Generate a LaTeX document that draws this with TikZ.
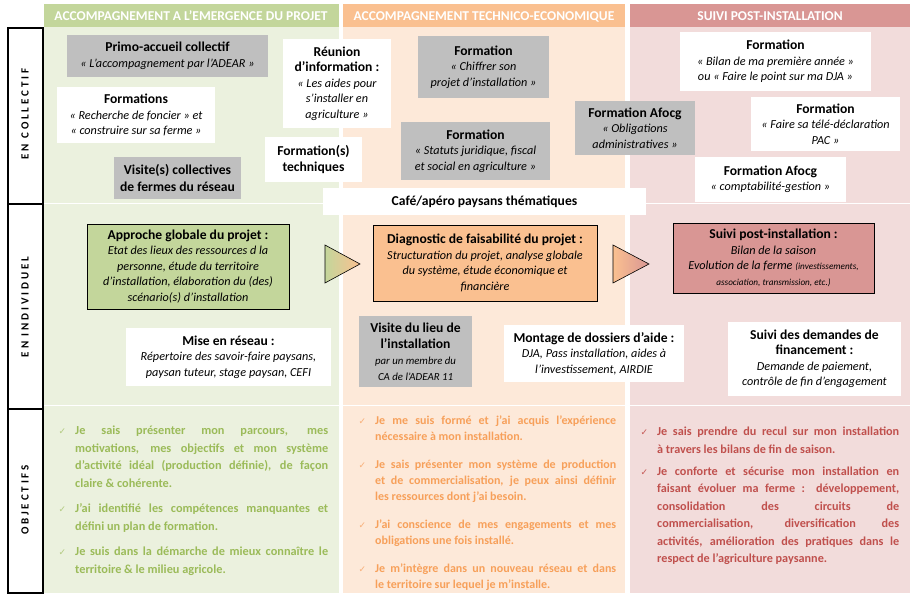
\documentclass[tikz,border=0pt]{standalone}
\usepackage{fontspec}
\setmainfont{Carlito}
\newfontfamily\symfont{DejaVu Sans}
\definecolor{hdgreen}{HTML}{C3D69B}
\definecolor{hdorange}{HTML}{FAC090}
\definecolor{hdpink}{HTML}{D99694}
\definecolor{bggreen}{HTML}{EBF1DE}
\definecolor{bgorange}{HTML}{FDE9D9}
\definecolor{bgpink}{HTML}{F2DCDB}
\definecolor{boxgray}{HTML}{BFBFBF}
\definecolor{objgreen}{HTML}{9BBB59}
\definecolor{objorange}{HTML}{F7A05A}
\definecolor{objpink}{HTML}{C0504D}
\definecolor{chkgreen}{HTML}{B3CB82}
\definecolor{chkorange}{HTML}{F8B07A}
\definecolor{chkpink}{HTML}{C65A57}
\newcommand\ttl[1]{{\fontsize{13.6}{15.5}\selectfont\upshape\bfseries #1}}
\newcommand\chk[1]{\leavevmode\llap{\textcolor{#1}{\symfont\fontsize{9}{9}\selectfont ✓}\hspace{9pt}}}
\tikzset{
  rect/.style n args={4}{minimum width={#3-#1}, minimum height={#4-#2}, at={({(#1+#3)/2},{(#2+#4)/2})}},
  box/.style={inner sep=0pt, align=center, font=\fontsize{12.2}{15.5}\selectfont},
  dbox/.style={box, font=\fontsize{12.2}{15.5}\selectfont\itshape},
  bbox/.style={box, font=\fontsize{13.6}{16.5}\selectfont\bfseries},
  graybox/.style={box, fill=boxgray},
  whitebox/.style={box, fill=white},
  hdr/.style={inner sep=0pt, font=\fontsize{13.5}{15}\selectfont\bfseries, text=white, anchor=base},
  lbl/.style={rotate=90, font=\fontsize{11}{13}\selectfont\bfseries\addfontfeatures{LetterSpace=26}},
  objtext/.style={anchor=north west, inner sep=0pt, align=justify},
}
\begin{document}
\begin{tikzpicture}[x=1pt,y=-1pt]
\useasboundingbox (0,0) rectangle (919,601);
% column backgrounds and header bands
\fill[bggreen] (44,27) rectangle (339,593);
\fill[bgorange] (343,27) rectangle (625,593);
\fill[bgpink] (630,27) rectangle (910,593);
\fill[hdgreen] (44,4) rectangle (339,27);
\fill[hdorange] (343,4) rectangle (625,27);
\fill[hdpink] (630,4) rectangle (910,27);
\foreach \a/\b in {44/339,343/625,630/910}{
  \draw[white, line width=1.5pt] (\a,203.5) -- (\b,203.5);
  \draw[white, line width=1.5pt] (\a,405.5) -- (\b,405.5);
}
% headers
\node[hdr] (h1) at (191,20.5) {ACCOMPAGNEMENT A L’EMERGENCE DU PROJET};
\node[hdr] (h2) at (484,20.5) {ACCOMPAGNEMENT TECHNICO-ECONOMIQUE};
\node[hdr] (h3) at (770,20.5) {SUIVI POST-INSTALLATION};
% left label column
\draw[line width=1.3pt] (8,28) rectangle (43,593);
\draw[line width=1.3pt] (8,204) -- (43,204);
\draw[line width=1.3pt] (8,409) -- (43,409);
\node[lbl] (lcoll) at (25,114) {EN COLLECTIF};
\node[lbl] (lind) at (25,307) {EN INDIVIDUEL};
\node[lbl] (lobj) at (25,500) {OBJECTIFS};
% row 1: collectif
\node[graybox, dbox, rect={67}{35}{268}{77}] (primo) {\ttl{Primo-accueil collectif}\\« L’accompagnement par l’ADEAR »};
\node[whitebox, dbox, rect={57}{87}{215}{143}] (formations) {\ttl{Formations}\\« Recherche de foncier » et\\« construire sur sa ferme »};
\node[graybox, bbox, rect={114}{157}{241}{199}] (visites) {Visite(s) collectives\\de fermes du réseau};
\node[whitebox, dbox, rect={283}{39}{391}{128}] (reunion) {\ttl{Réunion}\\\ttl{d’information :}\\« Les aides pour\\s’installer en\\agriculture »};
\node[whitebox, bbox, font=\fontsize{13.6}{15.5}\selectfont\bfseries, rect={265}{137}{362}{182}] (formtech) {Formation(s)\\techniques};
\node[graybox, dbox, rect={418}{36}{549}{98}] (chiffrer) {\ttl{Formation}\\« Chiffrer son\\projet d’installation »};
\node[graybox, dbox, rect={401}{122}{550}{180}] (statuts) {\ttl{Formation}\\« Statuts juridique, fiscal\\et social en agriculture »};
\node[graybox, dbox, rect={575}{101}{695}{155}] (afocga) {\ttl{Formation Afocg}\\« Obligations\\administratives »};
\node[whitebox, dbox, rect={680}{32}{871}{91}] (bilan) {\ttl{Formation}\\« Bilan de ma première année »\\ou « Faire le point sur ma DJA »};
\node[whitebox, dbox, rect={751}{97}{900}{151}] (pac) {\ttl{Formation}\\« Faire sa télé-déclaration\\PAC »};
\node[whitebox, dbox, rect={695}{157}{846}{202}] (afocgb) {\ttl{Formation Afocg}\\« comptabilité-gestion »};
\node[whitebox, bbox, rect={323}{188}{646}{215}] (cafe) {Café/apéro paysans thématiques};
% row 2: individuel
\node[dbox, fill=hdgreen, draw=black, line width=0.9pt, rect={87}{224}{289}{309}] (approche) {\ttl{Approche globale du projet :}\\Etat des lieux des ressources d la\\personne, étude du territoire\\d’installation, élaboration du (des)\\scénario(s) d’installation};
\node[whitebox, dbox, rect={126}{328}{331}{386}] (reseau) {\ttl{Mise en réseau :}\\Répertoire des savoir-faire paysans,\\paysan tuteur, stage paysan, CEFI};
\node[dbox, fill=hdorange, draw=black, line width=0.9pt, rect={373}{225}{597}{301}] (diag) {\ttl{Diagnostic de faisabilité du projet :}\\Structuration du projet, analyse globale\\du système, étude économique et\\financière};
\node[graybox, font=\fontsize{13.6}{16}\selectfont\bfseries, rect={359}{316}{472}{387}] (visitelieu) {Visite du lieu de\\l’installation\\{\fontsize{10.8}{12.5}\selectfont\mdseries\itshape par un membre du}\\{\fontsize{10.8}{12.5}\selectfont\mdseries\itshape CA de l’ADEAR 11}};
\node[whitebox, dbox, rect={504}{325}{684}{382}] (montage) {\ttl{Montage de dossiers d’aide :}\\DJA, Pass installation, aides à\\l’investissement, AIRDIE};
\node[dbox, fill=hdpink, draw=black, line width=0.9pt, rect={673}{223}{874}{293}] (suivi) {\ttl{Suivi post-installation :}\\Bilan de la saison\\Evolution de la ferme {\fontsize{9.2}{11}\selectfont(investissements,}\\{\fontsize{9.2}{11}\selectfont association, transmission, etc.)}};
\node[whitebox, dbox, rect={728}{322}{901}{396}] (demandes) {\ttl{Suivi des demandes de}\\\ttl{financement :}\\Demande de paiement,\\contrôle de fin d’engagement};
% arrows between columns
\shade[left color=hdgreen, right color=hdorange] (325,245) -- (325,283) -- (360,264) -- cycle;
\shade[left color=hdorange, right color=hdpink] (613,245) -- (613,283) -- (649,264) -- cycle;
\draw[black, line width=0.6pt] (325,245) -- (325,283) -- (360,264) -- cycle;
\draw[black, line width=0.6pt] (613,245) -- (613,283) -- (649,264) -- cycle;
% objectives
\node[objtext, text width=253pt, text=objgreen, font=\fontsize{12.3}{17.7}\selectfont\bfseries] (obj1) at (75,425.5) {\parindent=0pt
\chk{chkgreen}Je sais présenter mon parcours, mes\linebreak motivations, mes objectifs et mon système\linebreak d'activité idéal (production définie), de façon\linebreak claire \& cohérente.\par\vspace{7.5pt}
\chk{chkgreen}J'ai identifié les compétences manquantes et\linebreak défini un plan de formation.\par\vspace{7.5pt}
\chk{chkgreen}Je suis dans la démarche de mieux connaître le\linebreak territoire \& le milieu agricole.};
\node[objtext, text width=241pt, text=objorange, font=\fontsize{12}{16}\selectfont\bfseries] (obj2) at (375,416) {\parindent=0pt
\chk{chkorange}Je me suis formé et j'ai acquis l'expérience\linebreak nécessaire à mon installation.\par\vspace{12pt}
\chk{chkorange}Je sais présenter mon système de production\linebreak et de commercialisation, je peux ainsi définir\linebreak les ressources dont j’ai besoin.\par\vspace{12pt}
\chk{chkorange}J'ai conscience de mes engagements et mes\linebreak obligations une fois installé.\par\vspace{12pt}
\chk{chkorange}Je m’intègre dans un nouveau réseau et dans\linebreak le territoire sur lequel je m'installe.};
\node[objtext, text width=242pt, text=objpink, font=\fontsize{12.2}{17.5}\selectfont\bfseries] (obj3) at (657,427) {\parindent=0pt
\chk{chkpink}Je sais prendre du recul sur mon installation\linebreak à travers les bilans de fin de saison.\par\vspace{4.5pt}
\fontsize{12.2}{18.2}\selectfont\chk{chkpink}Je conforte et sécurise mon installation en\linebreak faisant évoluer ma ferme : développement,\linebreak consolidation des circuits de\linebreak commercialisation, diversification des\linebreak activités, amélioration des pratiques dans le\linebreak respect de l'agriculture paysanne.};
\end{tikzpicture}
\end{document}
